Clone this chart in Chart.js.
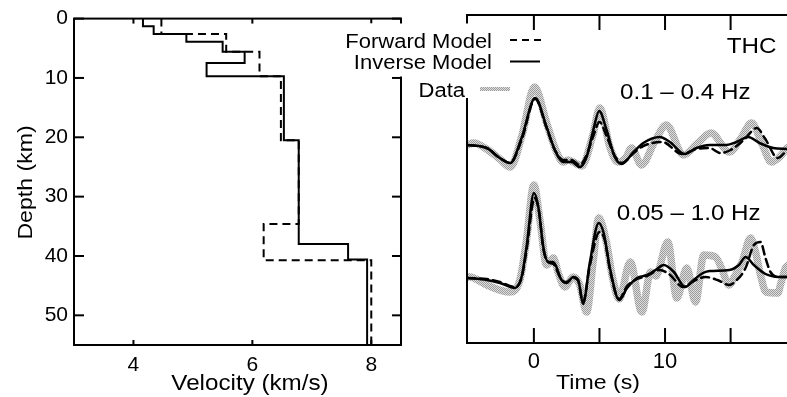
<!DOCTYPE html>
<html>
<head>
<meta charset="utf-8">
<script src="https://cdn.jsdelivr.net/npm/chart.js@4.4.1/dist/chart.umd.min.js"></script>
<style>
  body { margin: 0; background: #fff; }
  #wrap { position: relative; width: 787px; height: 397px; overflow: hidden; }
  canvas { position: absolute; top: 0; }
  #profile { left: 0; }
  #waves { left: 300px; }
</style>
</head>
<body>
<div id="wrap">
  <canvas id="profile" width="420" height="397"></canvas>
  <canvas id="waves" width="487" height="397"></canvas>
</div>
<script>
// ---- velocity model (left) ----
const velTicks = [4, 6, 8];
const depthTicks = [0, 10, 20, 30, 40, 50];
const maxDepth = 55;

// layer tops (km) and velocities (km/s)
const invTop = [0, 1.3, 2.6, 3.9, 5.6, 7.5, 9.7, 20.5, 38.0, 40.6];
const invVel = [4.16, 4.34, 4.89, 5.5, 5.87, 5.23, 6.53, 6.78, 7.61, 7.93];
const fwdTop = [0, 2.6, 5.6, 9.7, 20.5, 34.6, 40.7];
const fwdVel = [4.47, 5.56, 6.12, 6.48, 6.78, 6.19, 8.0];

// ---- waveforms (right), amplitudes in arbitrary units ----
const timeLabels = [0, 10];
const timeMarks = [0, 5, 10, 15];
const upperBase = 197;   // 0.1 - 0.4 Hz trace
const lowerBase = 65;    // 0.05 - 1.0 Hz trace

const upDataT = [-5.1, -4.6, -3.5, -2.6, -1.8, -0.9, 0.05, 0.97, 1.73, 2.24, 2.6, 3.0, 3.64, 4.5, 5.03, 5.79, 6.4, 7.0, 7.45, 8.2, 9.2, 10.1, 11.4, 12.5, 13.5, 14.9, 15.8, 16.6, 17.4, 18.1, 18.8, 19.3];
const upDataA = [1, 3, -4, -13, -21, 11, 59, 23, -6, -16, -14, -16, -20, 11, 38, -1, -16, -12, -2, -19, 4, 21, -9, 3, 13, -6, 8, 23, 2, -16, -10, -2];
const upInvT = [-5.1, -3.6, -2.6, -1.8, -0.94, 0.1, 0.97, 1.6, 2.24, 2.87, 3.5, 4.02, 4.53, 4.98, 5.54, 6.17, 6.7, 7.6, 8.34, 9.6, 10.37, 11.5, 12.4, 13.4, 14.69, 15.45, 16.34, 17.2, 18.25, 19.3];
const upInvA = [1, -2, -12, -17, 8, 48, 19, -4, -16, -16, -21, -11, 16, 35, 16, -11, -18, -6, 3, 9, 4, -8, -2, 1, 1, 4, 9, 3, -2, -3];
const upFwdT = [-5.1, -3.6, -2.6, -1.8, -0.94, 0.1, 0.97, 1.6, 2.24, 2.87, 3.5, 4.02, 4.53, 5.0, 5.54, 6.17, 6.7, 7.6, 8.34, 9.8, 11.3, 12.4, 13.4, 14.2, 15.0, 16.0, 17.0, 17.6, 18.6, 19.3];
const upFwdA = [1, -2, -12, -17, 6, 47, 18, -4, -14, -14, -19, -9, 10, 24, 10, -10, -17, -7, 0, 4, -8, -3, -2, -7, -4, 6, 18, 8, -12, -4];

const loDataT = [-5.1, -4.9, -3.6, -1.83, -1.07, -0.56, 0.0, 0.46, 0.97, 1.48, 1.86, 2.36, 3.0, 3.5, 4.02, 4.53, 4.95, 5.54, 6.0, 6.5, 7.35, 8.23, 8.9, 9.3, 10.21, 10.9, 11.66, 12.32, 12.96, 13.85, 14.36, 14.86, 15.37, 15.88, 16.52, 16.9, 17.28, 17.7, 18.6, 18.8, 19.18, 19.3];
const loDataA = [1, 1, -7, -14, -2, 38, 93, 58, 13, 20, 5, -9, 1, -7, -34, 18, 60, 35, 0, -21, 16, -34, 6, 2, 36, -20, 10, -24, 23, 21, 8, -7, 3, 16, 40, 26, 3, -14, -15, -7, 10, 12];
const loInvT = [-5.1, -3.6, -2.59, -1.45, -0.94, -0.56, 0.0, 0.34, 0.72, 1.1, 1.48, 2.11, 2.49, 3.0, 3.38, 3.75, 4.26, 4.95, 5.32, 5.83, 6.5, 7.11, 7.87, 8.63, 9.27, 9.9, 10.67, 11.54, 12.18, 12.9, 13.4, 14.9, 15.63, 16.14, 16.77, 17.66, 18.67, 19.3];
const loInvA = [0, -2, -5, -10, 1, 31, 85, 71, 31, 16, 16, -2, -5, 1, -2, -26, 15, 55, 45, 8, -22, -10, 0, 3, 8, 13, 6, -9, -2, 5, 7, 8, 13, 21, 13, 4, 1, 1];
const loFwdT = [-5.1, -3.6, -2.59, -1.45, -0.94, -0.56, 0.05, 0.4, 0.72, 1.1, 1.48, 2.11, 2.49, 3.0, 3.38, 3.75, 4.26, 5.0, 5.4, 5.83, 6.5, 7.11, 7.87, 8.63, 9.6, 10.3, 11.4, 12.2, 13.1, 14.0, 14.9, 15.4, 16.14, 16.77, 17.28, 17.66, 18.04, 18.67, 19.3];
const loFwdA = [0, -1, -4, -9, 0, 28, 80, 66, 29, 16, 14, -2, -4, 0, -3, -24, 12, 46, 38, 6, -21, -8, -1, 2, 8, 4, -9, -3, 1, -2, -7, -3, 10, 33, 36, 20, 6, 1, 1];

const FONT = '"Liberation Sans", Arial, sans-serif';

function stepPoints(tops, vels, bottom) {
  const pts = [];
  tops.forEach((top, i) => {
    const next = i + 1 < tops.length ? tops[i + 1] : bottom;
    pts.push({ x: vels[i], y: top }, { x: vels[i], y: next });
  });
  return pts;
}

function trace(times, amps, base) {
  return times.map((t, i) => ({ x: t, y: base + amps[i] }));
}

// grey halftone used for the data traces
function stipple() {
  const c = document.createElement("canvas");
  c.width = 2; c.height = 2;
  const g = c.getContext("2d");
  g.fillStyle = "#dedede"; g.fillRect(0, 0, 2, 2);
  g.fillStyle = "#9c9c9c"; g.fillRect(0, 0, 1, 1); g.fillRect(1, 1, 1, 1);
  return g.createPattern(c, "repeat");
}
const grey = stipple();

// text is slightly wide in the original, so stretch it a little
function label(ctx, text, x, y, size, align, rotate) {
  ctx.save();
  ctx.translate(x, y);
  if (rotate) ctx.rotate(-Math.PI / 2);
  ctx.scale(1.1, 1);
  ctx.font = size + "px " + FONT;
  ctx.textAlign = align;
  ctx.textBaseline = "alphabetic";
  ctx.fillStyle = "#000";
  ctx.fillText(text, 0, 0);
  ctx.restore();
}

function line(ctx, x1, y1, x2, y2) {
  ctx.beginPath();
  ctx.moveTo(x1, y1);
  ctx.lineTo(x2, y2);
  ctx.stroke();
}

const profileFrame = {
  id: "profileFrame",
  afterDraw(chart) {
    const { ctx, chartArea: a, scales } = chart;
    ctx.save();
    ctx.strokeStyle = "#000";
    ctx.lineWidth = 2;
    ctx.strokeRect(a.left, a.top, a.right - a.left, a.bottom - a.top);
    depthTicks.forEach(d => {
      const y = scales.y.getPixelForValue(d);
      line(ctx, a.left, y, a.left + 10, y);
      line(ctx, a.right, y, a.right - 9, y);
    });
    velTicks.forEach(v => {
      const x = scales.x.getPixelForValue(v);
      line(ctx, x, a.bottom, x, a.bottom - 5);
      line(ctx, x, a.top, x, a.top + 5);
    });
    ctx.restore();
    label(ctx, "Velocity (km/s)", 250, 390, 22, "center");
    label(ctx, "Depth (km)", 31.5, 182.5, 21, "center", true);
  }
};

const waveFrame = {
  id: "waveFrame",
  afterDraw(chart) {
    const { ctx, chartArea: a, scales } = chart;
    ctx.save();
    ctx.strokeStyle = "#000";
    ctx.lineWidth = 2;
    ctx.beginPath();
    ctx.moveTo(a.right + 2, a.top);
    ctx.lineTo(a.left, a.top);
    ctx.lineTo(a.left, a.bottom);
    ctx.lineTo(a.right + 2, a.bottom);
    ctx.stroke();
    timeMarks.forEach(t => {
      const x = scales.x.getPixelForValue(t);
      line(ctx, x, a.top, x, a.top + 15);
      line(ctx, x, a.bottom, x, a.bottom - 15);
    });

    // legend (sits across both panels, over a white box)
    const ox = -300;
    ctx.fillStyle = "#fff";
    ctx.fillRect(330 + ox, 23.5, 170, 53);
    ctx.fillRect(412 + ox, 76, 103, 22);
    ctx.restore();
    label(ctx, "Forward Model", 492 + ox, 47.5, 20, "right");
    label(ctx, "Inverse Model", 492 + ox, 68.5, 20, "right");
    label(ctx, "Data", 465 + ox, 96.5, 20, "right");
    ctx.save();
    ctx.strokeStyle = "#000";
    ctx.lineWidth = 2;
    ctx.setLineDash([7, 5]);
    line(ctx, 510 + ox, 40, 542 + ox, 40);
    ctx.setLineDash([]);
    line(ctx, 510 + ox, 61.5, 540 + ox, 61.5);
    ctx.strokeStyle = grey;
    ctx.lineWidth = 4;
    line(ctx, 480 + ox, 89, 510 + ox, 89);
    ctx.restore();

    label(ctx, "THC", 751.5 + ox, 52.5, 22, "center");
    label(ctx, "0.1 \u2013 0.4 Hz", 620 + ox, 99.3, 22, "left");
    label(ctx, "0.05 \u2013 1.0 Hz", 616.7 + ox, 220, 22, "left");
    label(ctx, "Time (s)", 598 + ox, 388.5, 21, "center");
  }
};

const tickFont = size => ({ family: FONT, size: size });

new Chart(document.getElementById("profile"), {
  type: "line",
  data: {
    datasets: [
      { label: "Inverse Model", data: stepPoints(invTop, invVel, maxDepth),
        borderColor: "#000", borderWidth: 2, pointRadius: 0, tension: 0 },
      { label: "Forward Model", data: stepPoints(fwdTop, fwdVel, maxDepth),
        borderColor: "#000", borderWidth: 2, borderDash: [8, 5], pointRadius: 0, tension: 0 }
    ]
  },
  options: {
    responsive: false,
    animation: false,
    devicePixelRatio: 1,
    layout: { padding: { left: 0, top: 15, right: 19, bottom: 0 } },
    plugins: { legend: { display: false }, tooltip: { enabled: false } },
    scales: {
      x: {
        type: "linear", min: 3, max: 8.5,
        grid: { display: false, drawTicks: false }, border: { display: false },
        ticks: { color: "#000", font: tickFont(21), padding: 8 },
        afterBuildTicks: s => { s.ticks = velTicks.map(v => ({ value: v })); },
        afterFit: s => { s.height = 52; }
      },
      y: {
        type: "linear", reverse: true, min: 0, max: maxDepth,
        grid: { display: false, drawTicks: false }, border: { display: false },
        ticks: { color: "#000", font: tickFont(21), padding: 6 },
        afterBuildTicks: s => { s.ticks = depthTicks.map(v => ({ value: v })); },
        afterFit: s => { s.width = 74; }
      }
    }
  },
  plugins: [profileFrame]
});

new Chart(document.getElementById("waves"), {
  type: "line",
  data: {
    datasets: [
      { label: "Inverse Model", data: trace(upInvT, upInvA, upperBase),
        borderColor: "#000", borderWidth: 2.5 },
      { label: "Inverse Model", data: trace(loInvT, loInvA, lowerBase),
        borderColor: "#000", borderWidth: 2.5 },
      { label: "Forward Model", data: trace(upFwdT, upFwdA, upperBase),
        borderColor: "#000", borderWidth: 2.5, borderDash: [8, 5] },
      { label: "Forward Model", data: trace(loFwdT, loFwdA, lowerBase),
        borderColor: "#000", borderWidth: 2.5, borderDash: [8, 5] },
      { label: "Data", data: trace(upDataT, upDataA, upperBase),
        borderColor: grey, borderWidth: 7.5 },
      { label: "Data", data: trace(loDataT, loDataA, lowerBase),
        borderColor: grey, borderWidth: 7.5 }
    ]
  },
  options: {
    responsive: false,
    animation: false,
    devicePixelRatio: 1,
    elements: {
      point: { radius: 0 },
      line: { cubicInterpolationMode: "monotone", borderJoinStyle: "round", borderCapStyle: "round" }
    },
    layout: { padding: { left: 167, top: 15, right: 0, bottom: 0 } },
    plugins: { legend: { display: false }, tooltip: { enabled: false } },
    scales: {
      x: {
        type: "linear", min: -5.1, max: 19.3,
        grid: { display: false, drawTicks: false }, border: { display: false },
        ticks: { color: "#000", font: tickFont(22), padding: 6 },
        afterBuildTicks: s => { s.ticks = timeLabels.map(v => ({ value: v })); },
        afterFit: s => { s.height = 54; }
      },
      y: { display: false, min: 0, max: 328 }
    }
  },
  plugins: [waveFrame]
});
</script>
</body>
</html>
